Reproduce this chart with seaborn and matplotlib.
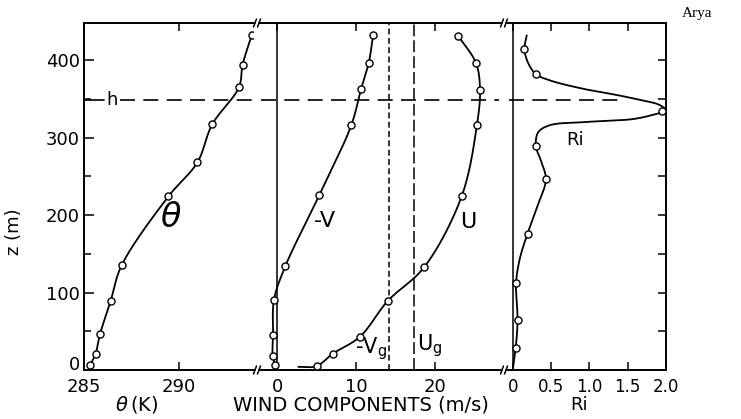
import numpy as np
import matplotlib
matplotlib.use("Agg")
import matplotlib.pyplot as plt
from matplotlib.lines import Line2D
import seaborn as sns

# ── Settings ──────────────────────────────────────────────────────────────────
sns.set_theme(style="ticks")
plt.rcParams['font.family'] = 'DejaVu Sans'
plt.rcParams['mathtext.fontset'] = 'dejavusans'
INK = 'black'
W, H = 741, 419

# ── Data ──────────────────────────────────────────────────────────────────────
# potential temperature profile
theta_z = [6, 21, 46, 89, 135, 224, 268, 317, 365, 394, 432]
theta_k = [285.32, 285.61, 285.84, 286.40, 286.98, 289.44, 290.97, 291.75, 293.16, 293.35, 293.83]

# wind components
negv_z = [7, 18, 45, 90, 134, 226, 316, 363, 396, 432]
negv_ms = [-0.25, -0.55, -0.5, -0.4, 1.05, 5.36, 9.4, 10.65, 11.6, 12.16]
u_z = [5, 21, 43, 89, 133, 225, 316, 361, 396, 431]
u_ms = [5.0, 7.05, 10.5, 14.0, 18.65, 23.4, 25.3, 25.7, 25.2, 22.96]
negv_curve_end = (-0.15, 1)     # hand-drawn curve runs past the last point
u_curve_start = (2.7, 4)

neg_vg = 14.2
u_g = 17.3
h_top = 348

# Richardson number
ri_z = [28, 64, 112, 176, 246, 289, 335, 382, 414]
ri_val = [0.035, 0.06, 0.04, 0.19, 0.43, 0.30, 1.95, 0.30, 0.15]
# fitted curve as drawn (sharp peak between observations)
ri_curve_z = [2, 28, 64, 112, 144, 176, 209, 246, 269, 289, 307, 316, 320, 324,
              330, 335, 342, 348, 355, 363, 374, 382, 396, 414, 432]
ri_curve_x = [0.0, 0.035, 0.06, 0.04, 0.09, 0.19, 0.31, 0.43, 0.37, 0.30, 0.33,
              0.48, 0.92, 1.57, 1.85, 2.0, 1.92, 1.70, 1.36, 0.92, 0.48, 0.30,
              0.20, 0.15, 0.18]

# ── Helpers ───────────────────────────────────────────────────────────────────
def smooth(xs, zs, sx, sz, n=24):
    """centripetal Catmull-Rom through the points (scaled to pixel space)"""
    P = np.column_stack([np.asarray(xs, float) * sx, np.asarray(zs, float) * sz])
    P = np.vstack([2 * P[0] - P[1], P, 2 * P[-1] - P[-2]])
    out = []
    for i in range(1, len(P) - 2):
        p0, p1, p2, p3 = P[i - 1], P[i], P[i + 1], P[i + 2]
        t0 = 0.0
        t1 = t0 + max(np.linalg.norm(p1 - p0), 1e-6) ** 0.5
        t2 = t1 + max(np.linalg.norm(p2 - p1), 1e-6) ** 0.5
        t3 = t2 + max(np.linalg.norm(p3 - p2), 1e-6) ** 0.5
        t = np.linspace(t1, t2, n)[:, None]
        a1 = (t1 - t) / (t1 - t0) * p0 + (t - t0) / (t1 - t0) * p1
        a2 = (t2 - t) / (t2 - t1) * p1 + (t - t1) / (t2 - t1) * p2
        a3 = (t3 - t) / (t3 - t2) * p2 + (t - t2) / (t3 - t2) * p3
        b1 = (t2 - t) / (t2 - t0) * a1 + (t - t0) / (t2 - t0) * a2
        b2 = (t3 - t) / (t3 - t1) * a2 + (t - t1) / (t3 - t1) * a3
        c = (t2 - t) / (t2 - t1) * b1 + (t - t1) / (t2 - t1) * b2
        out.append(c if i == 1 else c[1:])
    C = np.vstack(out)
    return C[:, 0] / sx, C[:, 1] / sz


def profile(ax, cx, cz, px, pz, sx):
    sx_, sz_ = smooth(cx, cz, sx, 0.775)
    sns.lineplot(x=sx_, y=sz_, sort=False, estimator=None, color=INK, lw=1.3, ax=ax)
    sns.scatterplot(x=px, y=pz, marker='o', s=26, color='white', edgecolor=INK,
                    linewidth=1.0, zorder=5, ax=ax)


# ── Figure / axes geometry (pixels of the reference) ──────────────────────────
fig = plt.figure(figsize=(W / 100, H / 100), dpi=100, facecolor='white')
bot, top = 370, 23
def box(x0, x1):
    return [x0 / W, (H - bot) / H, (x1 - x0) / W, (bot - top) / H]

ax1 = fig.add_axes(box(84, 253))
ax2 = fig.add_axes(box(261, 499))
ax3 = fig.add_axes(box(509, 666))

# ── Panel 1: theta ────────────────────────────────────────────────────────────
profile(ax1, theta_k, theta_z, theta_k, theta_z, 19)
ax1.plot([285, 286.05], [h_top, h_top], color=INK, lw=1.2)
ax1.plot([286.9, 293.9], [h_top, h_top], color=INK, lw=1.2, dashes=(9, 5))
ax1.text(286.5, h_top, 'h', fontsize=13, ha='center', va='center', color=INK)
ax1.text(289.6, 197, r'$\theta$', fontsize=24, ha='center', va='center', color=INK)

# ── Panel 2: wind components ──────────────────────────────────────────────────
ax2.axvline(0, color=INK, lw=1.1)
profile(ax2, negv_ms, negv_z, negv_ms, negv_z, 7.9)
profile(ax2, [u_curve_start[0]] + u_ms, [u_curve_start[1]] + u_z, u_ms, u_z, 7.9)
sns.lineplot(x=[negv_ms[0], negv_curve_end[0]], y=[negv_z[0], negv_curve_end[1]],
             sort=False, estimator=None, color=INK, lw=1.3, ax=ax2)
ax2.axvline(neg_vg, color=INK, lw=1.1, dashes=(3.9, 2.2))
ax2.axvline(u_g, color=INK, lw=1.1, dashes=(7.8, 2.6))
ax2.axhline(h_top, color=INK, lw=1.2, dashes=(9, 5))
ax2.text(6.1, 193, '-V', fontsize=16, ha='center', va='center', color=INK)
ax2.text(24.2, 191, 'U', fontsize=16, ha='center', va='center', color=INK)
ax2.text(neg_vg - 0.3, 28, r'-V$_\mathregular{g}$', fontsize=15, ha='right',
         va='center', color=INK)
ax2.text(u_g + 0.4, 32, r'U$_\mathregular{g}$', fontsize=15, ha='left',
         va='center', color=INK)

# ── Panel 3: Richardson number ────────────────────────────────────────────────
ax3.axvline(0, color=INK, lw=1.1)
profile(ax3, ri_curve_x, ri_curve_z, ri_val, ri_z, 76.5)
ax3.plot([-0.052, 1.37], [h_top, h_top], color=INK, lw=1.2, dashes=(9, 5))
ax3.text(0.81, 297, 'Ri', fontsize=13, ha='center', va='center', color=INK)

# ── Axes styling (after plotting so limits stay fixed) ────────────────────────
for ax in (ax1, ax2, ax3):
    ax.set_ylim(0, 448)
    for s in ax.spines.values():
        s.set_linewidth(1.4)
        s.set_color(INK)
    ax.tick_params(axis='x', which='both', direction='in', top=True, bottom=True,
                   length=6, width=1.1, color=INK, labelsize=13, pad=6, labelcolor=INK)
    ax.set_xlabel('')
    ax.set_ylabel('')

ax1.spines['right'].set_visible(False)
ax2.spines['left'].set_visible(False)
ax2.spines['right'].set_visible(False)
ax3.spines['left'].set_visible(False)

ax1.set_xlim(285, 293.9)
ax1.set_xticks([285, 290])
ax1.set_xticklabels(['285', '290'])
ax1.set_yticks([0, 100, 200, 300, 400])
ax1.set_yticks(np.arange(50, 448, 100), minor=True)
ax1.tick_params(axis='y', which='major', direction='in', length=7, width=1.1,
                labelsize=13, color=INK, labelcolor=INK, pad=3)
ax1.tick_params(axis='y', which='minor', direction='in', length=5, width=1.1, color=INK)
ax1.set_ylabel('z (m)', fontsize=13, color=INK)
ax1.yaxis.set_label_coords(-0.36, 0.40)

ax2.set_xlim(-2.03, 28.1)
ax2.set_xticks([0, 10, 20])
ax2.set_xticklabels(['0', '10', '20'])
ax2.set_yticks([])

ax3.set_xlim(-0.052, 2.0)
ax3.set_xticks([0, 0.5, 1.0, 1.5, 2.0])
ax3.set_xticklabels(['0', '0.5', '1.0', '1.5', '2.0'])
ax3.tick_params(axis='x', labelsize=12)
ax3.set_yticks(np.arange(0, 448, 50))
ax3.tick_params(axis='y', which='both', left=False, right=True, labelleft=False,
                direction='in', length=6, width=1.1, color=INK)
ax3.set_ylim(0, 448)

# lift the "0" label a little off the x tick labels, as in the original
ax1.get_yticklabels()[0].set_va('baseline')

# ── Axis titles under the panels ──────────────────────────────────────────────
fig.text(137 / W, 1 - 404 / H, r'$\theta\,$(K)', fontsize=14, ha='center', va='center', color=INK)
fig.text(361 / W, 1 - 405 / H, 'WIND COMPONENTS (m/s)', fontsize=14, ha='center',
         va='center', color=INK)
fig.text(579 / W, 1 - 405 / H, 'Ri', fontsize=13, ha='center', va='center', color=INK)
fig.text(682 / W, 1 - 14 / H, 'Arya', fontsize=11, family='Liberation Serif',
         ha='left', va='center', color=INK)

# ── Axis-break marks ──────────────────────────────────────────────────────────
for x0, x1 in [(253, 261), (499, 509)]:
    xm = (x0 + x1) / 2
    for yy in (top, bot):
        fy = lambda p: 1 - p / H
        fig.add_artist(Line2D([x0 / W, (xm - 2) / W], [fy(yy), fy(yy)], color=INK,
                              lw=1.3, transform=fig.transFigure))
        fig.add_artist(Line2D([(xm + 2) / W, x1 / W], [fy(yy), fy(yy)], color=INK,
                              lw=1.3, transform=fig.transFigure))
        for dx in (-2, 2):
            fig.add_artist(Line2D([(xm + dx - 1.5) / W, (xm + dx + 1.5) / W],
                                  [fy(yy + 4), fy(yy - 4)], color=INK, lw=1.1,
                                  transform=fig.transFigure))

plt.savefig('out.png', dpi=100, facecolor='white')
plt.close()
